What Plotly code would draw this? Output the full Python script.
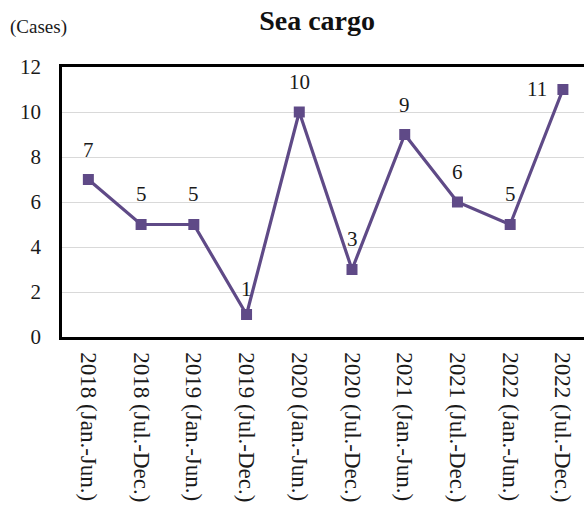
import plotly.graph_objects as go

periods = [
    "2018 (Jan.-Jun.)", "2018 (Jul.-Dec.)", "2019 (Jan.-Jun.)", "2019 (Jul.-Dec.)",
    "2020 (Jan.-Jun.)", "2020 (Jul.-Dec.)", "2021 (Jan.-Jun.)", "2021 (Jul.-Dec.)",
    "2022 (Jan.-Jun.)", "2022 (Jul.-Dec.)",
]
cases = [7, 5, 5, 1, 10, 3, 9, 6, 5, 11]
# value label offsets (px): above each point, except the last one sits to its left
label_dx = [0, 0, 0, 0, 0, 0, 0, 0, 0, -26]
label_dy = [30, 31, 31, 26, 30, 31, 30, 30, 31, 1]

serif = "Liberation Serif"
purple = "#5f4a87"
text_col = "#1a1a1a"

xs = list(range(len(periods)))

fig = go.Figure(
    go.Scatter(
        x=xs,
        y=cases,
        mode="lines+markers",
        line=dict(color=purple, width=3.2),
        marker=dict(symbol="square", size=11, color=purple),
        cliponaxis=False,
        hoverinfo="skip",
    )
)

annotations = [
    dict(
        x=x, y=v, text=str(v), xref="x", yref="y",
        xshift=dx, yshift=dy, showarrow=False,
        xanchor="center", yanchor="middle",
        font=dict(family=serif, size=21, color=text_col),
    )
    for x, v, dx, dy in zip(xs, cases, label_dx, label_dy)
]
annotations.append(
    dict(
        text="(Cases)", xref="paper", yref="paper",
        x=-0.103, y=1.148, xanchor="left", yanchor="middle",
        showarrow=False, font=dict(family=serif, size=19, color=text_col),
    )
)

fig.update_layout(
    width=584,
    height=507,
    margin=dict(l=62, r=0, t=67, b=170),
    paper_bgcolor="white",
    plot_bgcolor="white",
    showlegend=False,
    title=dict(
        text="<b>Sea cargo</b>",
        font=dict(family=serif, size=28, color="#111111"),
        x=0.543, xanchor="center", y=0.96, yanchor="middle",
    ),
    annotations=annotations,
)

fig.update_xaxes(
    range=[-0.5, 9.4],
    tickmode="array",
    tickvals=xs,
    ticktext=periods,
    tickangle=90,
    tickfont=dict(family=serif, size=23, color=text_col),
    showgrid=False,
    showline=True, linecolor="black", linewidth=2.5, mirror=True,
    ticks="", ticklabelstandoff=8,
    zeroline=False,
)

fig.update_yaxes(
    range=[0, 12],
    dtick=2,
    tickfont=dict(family=serif, size=21, color=text_col),
    showgrid=True, gridcolor="#d9d9d9", gridwidth=1,
    showline=True, linecolor="black", linewidth=2.5,
    ticks="", ticklabelstandoff=14,
    zeroline=False,
)

fig.write_html("out.html")
